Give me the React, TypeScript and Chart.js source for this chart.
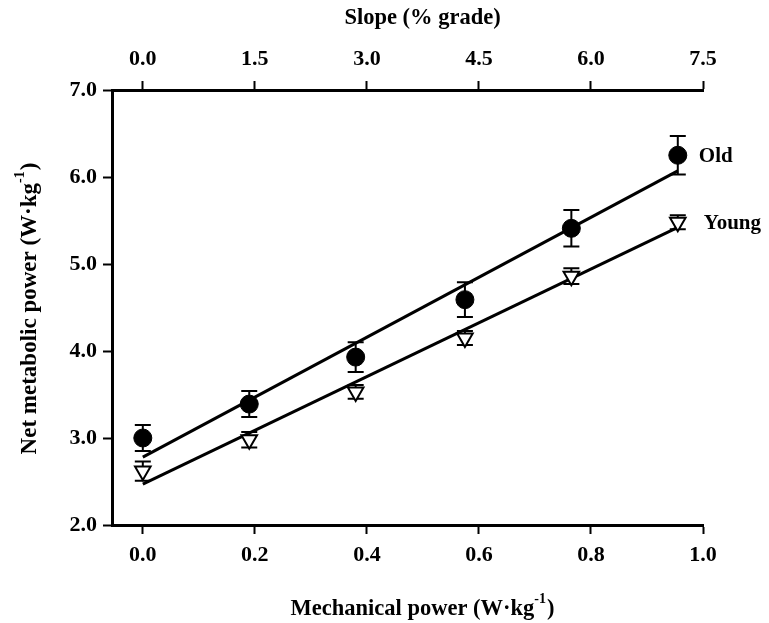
import React, { useEffect, useRef } from 'react';
import { Chart, registerables } from 'chart.js';

Chart.register(...registerables);

const FONT = '"Liberation Serif", "Times New Roman", serif';

// Data
const mechPower = [0, 0.19, 0.38, 0.575, 0.765, 0.955];
const oldMean = [3.0, 3.39, 3.93, 4.59, 5.41, 6.25];
const oldErr = [0.15, 0.15, 0.17, 0.2, 0.21, 0.22];
const youngMean = [2.62, 2.98, 3.53, 4.15, 4.86, 5.48];
const youngErr = [0.11, 0.09, 0.08, 0.08, 0.09, 0.08];
const fitX = [0, 0.955];
const oldFit = [2.78, 6.07];
const youngFit = [2.47, 5.42];
const bottomTicks = [0, 0.2, 0.4, 0.6, 0.8, 1.0];
const topTicks = [0, 1.5, 3.0, 4.5, 6.0, 7.5];
const yTicks = [2, 3, 4, 5, 6, 7];
const seriesNames = ['Old', 'Young'];

const X_MIN = -0.055;
const X_MAX = 1.0;
const SLOPE_PER_POWER = 7.5;

const errorBarPlugin = {
  id: 'errorBars',
  beforeDatasetsDraw(chart: any) {
    const ctx = chart.ctx;
    const xs = chart.scales.x;
    const ys = chart.scales.y;
    ctx.save();
    ctx.strokeStyle = '#000';
    ctx.lineWidth = 2;
    const draw = (means: number[], errs: number[]) => {
      means.forEach((m, i) => {
        const px = xs.getPixelForValue(mechPower[i]);
        const top = ys.getPixelForValue(m + errs[i]);
        const bot = ys.getPixelForValue(m - errs[i]);
        ctx.beginPath();
        ctx.moveTo(px, top);
        ctx.lineTo(px, bot);
        ctx.moveTo(px - 8, top);
        ctx.lineTo(px + 8, top);
        ctx.moveTo(px - 8, bot);
        ctx.lineTo(px + 8, bot);
        ctx.stroke();
      });
    };
    draw(oldMean, oldErr);
    draw(youngMean, youngErr);
    ctx.restore();
  },
};

function drawSupTitle(ctx: CanvasRenderingContext2D, main: string, sup: string, close: string, size: number) {
  const mainFont = `bold ${size}px ${FONT}`;
  const supFont = `bold ${Math.round(size * 0.62)}px ${FONT}`;
  ctx.font = mainFont;
  const w1 = ctx.measureText(main).width;
  const w3 = ctx.measureText(close).width;
  ctx.font = supFont;
  const w2 = ctx.measureText(sup).width;
  const total = w1 + w2 + w3 + 1;
  let x = -total / 2;
  ctx.textBaseline = 'middle';
  ctx.textAlign = 'left';
  ctx.font = mainFont;
  ctx.fillText(main, x, 0);
  x += w1;
  ctx.font = supFont;
  ctx.fillText(sup, x, -size * 0.42);
  x += w2 + 1;
  ctx.font = mainFont;
  ctx.fillText(close, x, 0);
}

const titlesPlugin = {
  id: 'titles',
  afterDraw(chart: any) {
    const ctx = chart.ctx;
    const area = chart.chartArea;
    const xs = chart.scales.x;
    const ys = chart.scales.y;
    ctx.save();
    ctx.fillStyle = '#000';
    const cx = (area.left + area.right) / 2;
    // bottom title
    ctx.save();
    ctx.translate(cx + 15, 609);
    drawSupTitle(ctx, 'Mechanical power (W·kg', '-1', ')', 22.5);
    ctx.restore();
    // top title
    ctx.font = `bold 22.5px ${FONT}`;
    ctx.textAlign = 'center';
    ctx.textBaseline = 'middle';
    ctx.fillText('Slope (% grade)', cx + 15, 18);
    // y title
    ctx.save();
    ctx.translate(30, (area.top + area.bottom) / 2 + 1);
    ctx.rotate(-Math.PI / 2);
    drawSupTitle(ctx, 'Net metabolic power (W·kg', '-1', ')', 23);
    ctx.restore();
    // series labels
    ctx.font = `bold 21px ${FONT}`;
    ctx.textAlign = 'left';
    ctx.textBaseline = 'middle';
    const last = mechPower.length - 1;
    const px = xs.getPixelForValue(mechPower[last]);
    ctx.fillText(seriesNames[0], px + 21, ys.getPixelForValue(oldMean[last]) + 1);
    ctx.fillText(seriesNames[1], px + 26, ys.getPixelForValue(youngMean[last]) + 1);
    ctx.restore();
  },
};

export default function App() {
  const canvasRef = useRef<HTMLCanvasElement | null>(null);

  useEffect(() => {
    document.body.style.margin = '0';
    const canvas = canvasRef.current;
    if (!canvas) return;
    const tickFont = { family: FONT, size: 22, weight: 'bold' as const };
    const gridCommon = {
      drawOnChartArea: false,
      drawTicks: true,
      tickLength: 9,
      tickWidth: 2,
      tickColor: '#000',
    };
    const borderCommon = { display: true, color: '#000', width: 3 };

    const chart = new Chart(canvas, {
      type: 'scatter',
      data: {
        datasets: [
          {
            label: seriesNames[0],
            data: mechPower.map((x, i) => ({ x, y: oldMean[i] })),
            pointStyle: 'circle',
            pointRadius: 9,
            backgroundColor: '#000',
            borderColor: '#000',
            borderWidth: 1,
            showLine: false,
          },
          {
            label: seriesNames[1],
            data: mechPower.map((x, i) => ({ x, y: youngMean[i] })),
            pointStyle: 'triangle',
            rotation: 180,
            pointRadius: 9,
            backgroundColor: '#fff',
            borderColor: '#000',
            borderWidth: 2,
            showLine: false,
          },
          {
            label: 'Old fit',
            data: fitX.map((x, i) => ({ x, y: oldFit[i] })),
            showLine: true,
            pointRadius: 0,
            borderColor: '#000',
            borderWidth: 3,
          },
          {
            label: 'Young fit',
            data: fitX.map((x, i) => ({ x, y: youngFit[i] })),
            showLine: true,
            pointRadius: 0,
            borderColor: '#000',
            borderWidth: 3,
          },
        ],
      },
      options: {
        responsive: false,
        animation: false,
        events: [],
        layout: { padding: { left: 0, right: 66, top: 0, bottom: 0 } },
        plugins: {
          legend: { display: false },
          tooltip: { enabled: false },
          title: { display: false },
        },
        scales: {
          x: {
            type: 'linear',
            position: 'bottom',
            min: X_MIN,
            max: X_MAX,
            afterBuildTicks: (s: any) => {
              s.ticks = bottomTicks.map((v) => ({ value: v }));
            },
            afterFit: (s: any) => {
              s.height = 98;
            },
            ticks: {
              callback: (v: any) => Number(v).toFixed(1),
              font: tickFont,
              color: '#000',
              padding: 8,
              maxRotation: 0,
              autoSkip: false,
            },
            grid: gridCommon,
            border: borderCommon,
          },
          x2: {
            type: 'linear',
            position: 'top',
            min: X_MIN * SLOPE_PER_POWER,
            max: X_MAX * SLOPE_PER_POWER,
            afterBuildTicks: (s: any) => {
              s.ticks = topTicks.map((v) => ({ value: v }));
            },
            afterFit: (s: any) => {
              s.height = 90;
            },
            ticks: {
              callback: (v: any) => Number(v).toFixed(1),
              font: tickFont,
              color: '#000',
              padding: 8,
              maxRotation: 0,
              autoSkip: false,
            },
            grid: gridCommon,
            border: borderCommon,
          },
          y: {
            type: 'linear',
            position: 'left',
            min: 2,
            max: 7,
            afterBuildTicks: (s: any) => {
              s.ticks = yTicks.map((v) => ({ value: v }));
            },
            afterFit: (s: any) => {
              s.width = 112;
            },
            ticks: {
              callback: (v: any) => Number(v).toFixed(1),
              font: tickFont,
              color: '#000',
              padding: 6,
              autoSkip: false,
            },
            grid: gridCommon,
            border: borderCommon,
          },
        },
      } as any,
      plugins: [errorBarPlugin, titlesPlugin],
    });
    return () => chart.destroy();
  }, []);

  return (
    <div style={{ width: 769, height: 623 }}>
      <canvas ref={canvasRef} width={769} height={623} />
    </div>
  );
}
